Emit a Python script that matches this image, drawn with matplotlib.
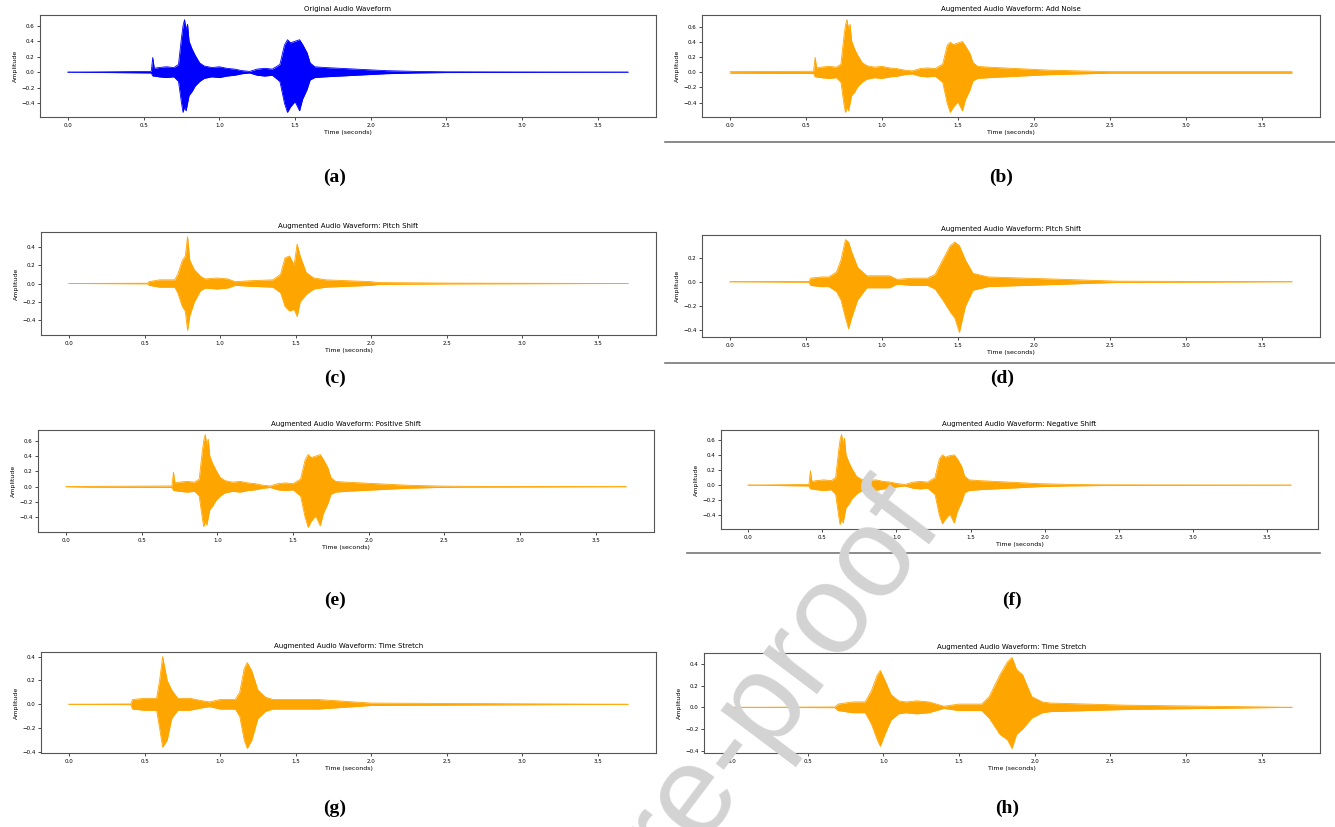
import matplotlib
matplotlib.use('Agg')
import matplotlib.pyplot as plt
from matplotlib.ticker import MultipleLocator
from matplotlib.lines import Line2D

# ---- data: waveform envelopes (time in s, amplitude) ----

# (a) original
t_a = [0, 0.55, 0.56, 0.57, 0.60, 0.65, 0.70, 0.73, 0.75, 0.76, 0.77, 0.78, 0.79, 0.80, 0.82, 0.84, 0.87, 0.90,
       0.95, 1.00, 1.05, 1.10, 1.15, 1.20, 1.25, 1.30, 1.35, 1.40, 1.43, 1.45, 1.47, 1.50, 1.53, 1.55, 1.58,
       1.60, 1.63, 1.70, 1.80, 1.90, 2.00, 2.10, 2.30, 2.50, 3.70]
up_a = [0, 0.01, 0.19, 0.05, 0.06, 0.07, 0.06, 0.10, 0.45, 0.60, 0.68, 0.55, 0.62, 0.40, 0.30, 0.22, 0.12, 0.08,
        0.06, 0.07, 0.05, 0.04, 0.02, 0.01, 0.04, 0.05, 0.04, 0.10, 0.35, 0.42, 0.38, 0.40, 0.42, 0.36, 0.25,
        0.12, 0.07, 0.06, 0.05, 0.04, 0.03, 0.02, 0.01, 0.005, 0]
lo_a = [0, -0.01, -0.05, -0.05, -0.06, -0.07, -0.06, -0.12, -0.40, -0.52, -0.45, -0.50, -0.40, -0.30, -0.25, -0.18,
        -0.12, -0.08, -0.06, -0.07, -0.05, -0.04, -0.02, -0.01, -0.04, -0.05, -0.04, -0.12, -0.40, -0.52, -0.45,
        -0.38, -0.50, -0.35, -0.22, -0.10, -0.07, -0.06, -0.05, -0.04, -0.03, -0.02, -0.01, -0.005, 0]

# (b) add noise
t_b = [0, 0.55, 0.56, 0.57, 0.60, 0.65, 0.70, 0.73, 0.75, 0.76, 0.77, 0.78, 0.79, 0.80, 0.82, 0.84, 0.87, 0.90,
       0.95, 1.00, 1.05, 1.10, 1.15, 1.20, 1.25, 1.30, 1.35, 1.40, 1.43, 1.45, 1.47, 1.50, 1.53, 1.55, 1.58,
       1.60, 1.63, 1.70, 1.80, 1.90, 2.00, 2.10, 2.30, 2.50, 3.70]
up_b = [0.01, 0.015, 0.20, 0.06, 0.07, 0.08, 0.07, 0.11, 0.48, 0.63, 0.70, 0.57, 0.64, 0.42, 0.31, 0.23, 0.13, 0.09,
        0.07, 0.08, 0.06, 0.05, 0.03, 0.02, 0.05, 0.06, 0.05, 0.11, 0.36, 0.40, 0.37, 0.39, 0.41, 0.35, 0.25,
        0.13, 0.08, 0.07, 0.06, 0.05, 0.04, 0.03, 0.02, 0.01, 0.01]
lo_b = [-0.01, -0.015, -0.06, -0.06, -0.07, -0.08, -0.07, -0.13, -0.42, -0.53, -0.46, -0.51, -0.41, -0.31, -0.26,
        -0.19, -0.13, -0.09, -0.07, -0.08, -0.06, -0.05, -0.03, -0.02, -0.05, -0.06, -0.05, -0.13, -0.41, -0.53,
        -0.46, -0.39, -0.51, -0.36, -0.23, -0.11, -0.08, -0.07, -0.06, -0.05, -0.04, -0.03, -0.02, -0.01, -0.01]

# (c) pitch shift
t_c = [0, 0.52, 0.53, 0.60, 0.70, 0.72, 0.75, 0.77, 0.785, 0.80, 0.83, 0.87, 0.90, 0.98, 1.05, 1.10, 1.20, 1.35,
       1.40, 1.43, 1.46, 1.49, 1.51, 1.53, 1.57, 1.62, 1.70, 2.00, 2.05, 2.55, 3.70]
up_c = [0, 0.003, 0.02, 0.04, 0.04, 0.10, 0.25, 0.30, 0.51, 0.25, 0.15, 0.08, 0.05, 0.06, 0.05, 0.02, 0.03, 0.04,
        0.10, 0.28, 0.30, 0.20, 0.43, 0.30, 0.12, 0.06, 0.04, 0.02, 0.01, 0.004, 0]
lo_c = [0, -0.003, -0.02, -0.04, -0.04, -0.10, -0.25, -0.30, -0.51, -0.35, -0.20, -0.08, -0.05, -0.06, -0.05, -0.02,
        -0.03, -0.04, -0.10, -0.25, -0.30, -0.28, -0.36, -0.20, -0.12, -0.06, -0.04, -0.02, -0.01, -0.004, 0]

# (d) pitch shift
t_d = [0, 0.52, 0.53, 0.60, 0.65, 0.70, 0.73, 0.76, 0.78, 0.80, 0.84, 0.90, 0.95, 1.05, 1.10, 1.20, 1.30, 1.35,
       1.40, 1.45, 1.48, 1.51, 1.55, 1.60, 1.70, 2.20, 2.55, 3.70]
up_d = [0, 0.003, 0.03, 0.04, 0.04, 0.08, 0.18, 0.35, 0.33, 0.25, 0.12, 0.05, 0.05, 0.05, 0.02, 0.03, 0.03, 0.06,
        0.18, 0.30, 0.33, 0.30, 0.18, 0.07, 0.04, 0.02, 0.005, 0]
lo_d = [0, -0.003, -0.03, -0.04, -0.04, -0.08, -0.15, -0.30, -0.39, -0.30, -0.15, -0.05, -0.05, -0.05, -0.02, -0.03,
        -0.03, -0.06, -0.15, -0.25, -0.30, -0.42, -0.20, -0.07, -0.04, -0.02, -0.005, 0]

# (e) positive shift
t_e = [0, 0.15, 0.70, 0.71, 0.72, 0.75, 0.80, 0.85, 0.88, 0.90, 0.91, 0.92, 0.93, 0.94, 0.95, 0.97, 0.99, 1.02,
       1.05, 1.10, 1.15, 1.20, 1.25, 1.30, 1.35, 1.40, 1.45, 1.50, 1.55, 1.58, 1.60, 1.62, 1.65, 1.68, 1.70,
       1.73, 1.75, 1.78, 1.85, 1.95, 2.05, 2.15, 2.25, 2.45, 2.65, 3.70]
up_e = [0, 0.005, 0.01, 0.19, 0.05, 0.06, 0.07, 0.06, 0.10, 0.45, 0.60, 0.68, 0.55, 0.62, 0.40, 0.30, 0.22, 0.12,
        0.08, 0.06, 0.07, 0.05, 0.04, 0.02, 0.01, 0.04, 0.05, 0.04, 0.10, 0.35, 0.42, 0.38, 0.40, 0.42, 0.36,
        0.25, 0.12, 0.07, 0.06, 0.05, 0.04, 0.03, 0.02, 0.01, 0.005, 0]
lo_e = [0, -0.005, -0.01, -0.05, -0.05, -0.06, -0.07, -0.06, -0.12, -0.40, -0.52, -0.45, -0.50, -0.40, -0.30,
        -0.25, -0.18, -0.12, -0.08, -0.06, -0.07, -0.05, -0.04, -0.02, -0.01, -0.04, -0.05, -0.04, -0.12, -0.40,
        -0.53, -0.45, -0.38, -0.51, -0.35, -0.22, -0.10, -0.07, -0.06, -0.05, -0.04, -0.03, -0.02, -0.01,
        -0.005, 0]

# (f) negative shift
t_f = [0, 0.41, 0.42, 0.43, 0.46, 0.51, 0.56, 0.59, 0.61, 0.62, 0.63, 0.64, 0.65, 0.66, 0.68, 0.70, 0.73, 0.76,
       0.81, 0.86, 0.91, 0.96, 1.01, 1.06, 1.11, 1.16, 1.21, 1.26, 1.29, 1.31, 1.33, 1.36, 1.39, 1.41, 1.44,
       1.46, 1.49, 1.56, 1.66, 1.76, 1.86, 1.96, 2.16, 2.38, 3.66]
up_f = [0, 0.01, 0.19, 0.05, 0.06, 0.07, 0.06, 0.10, 0.45, 0.60, 0.67, 0.55, 0.62, 0.40, 0.30, 0.22, 0.12, 0.08,
        0.06, 0.07, 0.05, 0.04, 0.02, 0.01, 0.04, 0.05, 0.04, 0.10, 0.35, 0.40, 0.37, 0.39, 0.40, 0.35, 0.25,
        0.12, 0.07, 0.06, 0.05, 0.04, 0.03, 0.02, 0.01, 0.005, 0]
lo_f = [0, -0.01, -0.05, -0.05, -0.06, -0.07, -0.06, -0.12, -0.40, -0.52, -0.45, -0.50, -0.40, -0.30, -0.25, -0.18,
        -0.12, -0.08, -0.06, -0.07, -0.05, -0.04, -0.02, -0.01, -0.04, -0.05, -0.04, -0.12, -0.40, -0.51, -0.45,
        -0.38, -0.50, -0.35, -0.22, -0.10, -0.07, -0.06, -0.05, -0.04, -0.03, -0.02, -0.01, -0.005, 0]

# (g) time stretch (faster)
t_g = [0, 0.41, 0.42, 0.50, 0.58, 0.60, 0.62, 0.65, 0.68, 0.72, 0.80, 0.88, 0.93, 1.00, 1.10, 1.13, 1.16, 1.18,
       1.21, 1.25, 1.30, 1.35, 1.65, 2.00, 3.70]
up_g = [0, 0.003, 0.04, 0.05, 0.05, 0.20, 0.40, 0.20, 0.12, 0.05, 0.05, 0.03, 0.02, 0.04, 0.04, 0.10, 0.30, 0.35,
        0.28, 0.12, 0.06, 0.04, 0.04, 0.01, 0]
lo_g = [0, -0.003, -0.04, -0.05, -0.05, -0.20, -0.36, -0.30, -0.12, -0.05, -0.05, -0.03, -0.02, -0.04, -0.04,
        -0.10, -0.30, -0.37, -0.30, -0.12, -0.06, -0.04, -0.04, -0.01, 0]

# (h) time stretch (slower)
t_h = [0, 0.68, 0.70, 0.80, 0.88, 0.92, 0.96, 0.98, 1.01, 1.05, 1.10, 1.15, 1.22, 1.30, 1.40, 1.50, 1.65, 1.70,
       1.77, 1.82, 1.85, 1.88, 1.92, 1.98, 2.05, 2.10, 2.60, 3.15, 3.70]
up_h = [0, 0.003, 0.03, 0.05, 0.05, 0.15, 0.30, 0.34, 0.25, 0.12, 0.06, 0.05, 0.06, 0.05, 0.01, 0.03, 0.03, 0.10,
        0.30, 0.42, 0.46, 0.35, 0.30, 0.10, 0.05, 0.04, 0.02, 0.01, 0]
lo_h = [0, -0.003, -0.03, -0.05, -0.05, -0.15, -0.30, -0.36, -0.25, -0.12, -0.06, -0.05, -0.06, -0.05, -0.01,
        -0.03, -0.03, -0.10, -0.25, -0.30, -0.38, -0.25, -0.20, -0.10, -0.05, -0.04, -0.02, -0.01, 0]

titles = ['Original Audio Waveform',
          'Augmented Audio Waveform: Add Noise',
          'Augmented Audio Waveform: Pitch Shift',
          'Augmented Audio Waveform: Pitch Shift',
          'Augmented Audio Waveform: Positive Shift',
          'Augmented Audio Waveform: Negative Shift',
          'Augmented Audio Waveform: Time Stretch',
          'Augmented Audio Waveform: Time Stretch']
panel_labels = ['(a)', '(b)', '(c)', '(d)', '(e)', '(f)', '(g)', '(h)']
xticks = [0.0, 0.5, 1.0, 1.5, 2.0, 2.5, 3.0, 3.5]

waves = [(t_a, up_a, lo_a), (t_b, up_b, lo_b), (t_c, up_c, lo_c), (t_d, up_d, lo_d),
         (t_e, up_e, lo_e), (t_f, up_f, lo_f), (t_g, up_g, lo_g), (t_h, up_h, lo_h)]
colors = ['blue'] + ['orange'] * 7

# ---- layout (pixel boxes: left, top, right, bottom) ----
W, H = 1335, 827
boxes = [(40, 15, 656, 117), (702, 15, 1320, 117),
         (41, 232, 656, 335), (702, 235, 1320, 337),
         (38, 430, 654, 532), (721, 430, 1318, 529),
         (41, 652, 656, 753), (704, 653, 1320, 753)]
label_pos = [(335, 177), (1001, 177), (335, 378), (1002, 378),
             (335, 600), (1012, 600), (335, 808), (1007, 808)]

fig = plt.figure(figsize=(W / 100, H / 100), dpi=100)

for i in range(8):
    l, t, r, b = boxes[i]
    ax = fig.add_axes([l / W, 1 - b / H, (r - l) / W, (b - t) / H])
    tt, up, lo = waves[i]
    c = colors[i]
    ax.fill_between(tt, lo, up, color=c, lw=0)
    ax.plot(tt, up, color=c, lw=0.6)
    ax.plot(tt, lo, color=c, lw=0.6)
    ax.set_xticks(xticks)
    ax.yaxis.set_major_locator(MultipleLocator(0.2))
    ax.set_title(titles[i], fontsize=5, pad=3)
    ax.set_xlabel('Time (seconds)', fontsize=4.5, labelpad=1.5)
    ax.set_ylabel('Amplitude', fontsize=4.5, labelpad=2)
    ax.tick_params(labelsize=4, length=2, width=0.5, pad=2)
    for sp in ax.spines.values():
        sp.set_color('#555555')
        sp.set_linewidth(0.8)
    lx, ly = label_pos[i]
    fig.text(lx / W, 1 - ly / H, panel_labels[i], ha='center', va='center',
             fontsize=14, fontweight='bold', family='Liberation Serif')

# screenshot borders under the right-hand panels
for y, x0, x1 in [(142, 665, 1335), (363, 665, 1335), (553, 687, 1320)]:
    fig.add_artist(Line2D([x0 / W, x1 / W], [1 - y / H, 1 - y / H], color='#777777', lw=1.2))

# watermark
fig.text(945 / W, 1 - 525 / H, 'Journal Pre-proof', rotation=53, rotation_mode='anchor',
         ha='right', va='baseline', fontsize=92, color='#d3d3d3', family='Liberation Sans', zorder=10)

fig.savefig('out.png', dpi=100)
